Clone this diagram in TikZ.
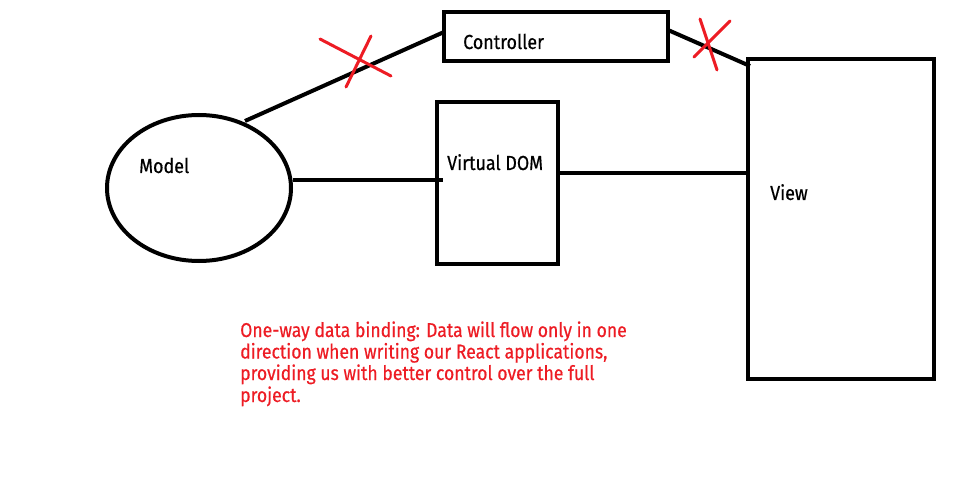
\documentclass[tikz,border=0pt]{standalone}
\usetikzlibrary{shapes.geometric}
\usepackage{fontspec}
\setmainfont{Fira Sans}[FakeStretch=0.88,FakeBold=0.5]
\definecolor{paintred}{RGB}{237,28,36}
\begin{document}
\begin{tikzpicture}[x=1pt,y=-1pt,
  blk/.style={draw=black,line width=4pt},
  conn/.style={draw=black,line width=4pt},
  cross/.style={draw=paintred,line width=3pt,line cap=round},
  lbl/.style={anchor=base west,inner sep=0pt,font=\fontsize{20.3}{24}\selectfont},
  note/.style={anchor=base west,inner sep=0pt,align=left,text=paintred,font=\fontsize{20}{21.8}\selectfont}]
\useasboundingbox (0,0) rectangle (953,489);
% shapes
\node[blk,ellipse,minimum width=184pt,minimum height=146pt,inner sep=0pt] (model) at (199,188) {};
\node[blk,rectangle,minimum width=224pt,minimum height=49pt,inner sep=0pt] (ctrl) at (556,36.5) {};
\node[blk,rectangle,minimum width=121pt,minimum height=162pt,inner sep=0pt] (vdom) at (497.5,183) {};
\node[blk,rectangle,minimum width=186pt,minimum height=320pt,inner sep=0pt] (view) at (841,219) {};
% labels
\node[lbl] (tctrl) at (463,49) {Controller};
\node[lbl] (tmodel) at (139,173) {Model};
\node[lbl] (tvdom) at (447,170) {Virtual DOM};
\node[lbl] (tview) at (770,200) {View};
% connectors
\coordinate (m1) at (245,121);
\coordinate (c1) at (444,32);
\coordinate (c2) at (668,30);
\coordinate (v1) at (750,66);
\coordinate (m2) at (293,180);
\coordinate (d1) at (443,180);
\coordinate (d2) at (558,173);
\coordinate (v2) at (750,173);
\draw[conn] (m1) -- (c1);
\draw[conn] (c2) -- (v1);
\draw[conn] (m2) -- (d1);
\draw[conn] (d2) -- (v2);
% red crosses
\coordinate (x1a) at (320,39); \coordinate (x1b) at (391,76);
\coordinate (x1c) at (371,36); \coordinate (x1d) at (346,87);
\coordinate (x2a) at (700,19); \coordinate (x2b) at (717,70);
\coordinate (x2c) at (730,21); \coordinate (x2d) at (694,57);
\draw[cross] (x1a) -- (x1b);
\draw[cross] (x1c) -- (x1d);
\draw[cross] (x2a) -- (x2b);
\draw[cross] (x2c) -- (x2d);
% note
\node[note] (txt1) at (240,337) {One-way data binding: Data will flow only in one};
\node[note] (txt2) at (240,358.5) {direction when writing our React applications,};
\node[note] (txt3) at (240,380) {providing us with better control over the full};
\node[note] (txt4) at (240,402) {project.};
\end{tikzpicture}
\end{document}
